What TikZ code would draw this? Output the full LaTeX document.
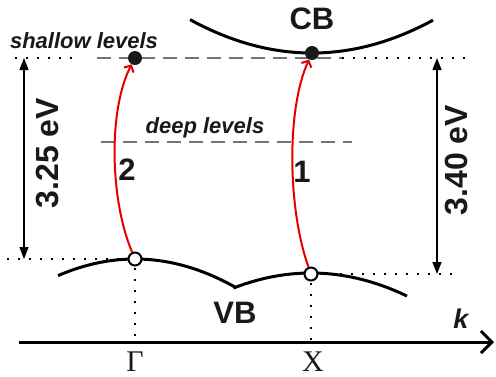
\documentclass[tikz,border=0pt]{standalone}
\usepackage{fontspec}
\setmainfont{Liberation Sans}
\newfontfamily\serifroman{Liberation Serif}
\usetikzlibrary{arrows.meta}
\begin{document}
\begin{tikzpicture}[x=1pt,y=-1pt,
  band/.style={line width=3pt},
  dotl/.style={line width=2.2pt,dash pattern=on 2.2pt off 8.8pt},
  dashl/.style={line width=1.6pt,draw=black!55,dash pattern=on 14pt off 8pt},
  dimarrow/.style={line width=1.4pt,{Triangle[length=12pt,width=9pt]}-{Triangle[length=12pt,width=9pt]}},
  trans/.style={line width=2pt,draw=red!90!black,-{Straight Barb[length=5pt,width=11pt,line width=2pt]}},
  filldot/.style={circle,fill=black!90,inner sep=0pt,minimum size=14pt},
  holedot/.style={circle,draw=black,fill=white,line width=2pt,inner sep=0pt,minimum size=13pt},
  lbl/.style={font=\bfseries\fontsize{31}{33}\selectfont,text=black!90,inner sep=0pt},
  ilbl/.style={font=\bfseries\itshape\fontsize{22}{24}\selectfont,text=black!90,inner sep=0pt},
  sym/.style={font=\serifroman\fontsize{30}{32}\selectfont,text=black!90,inner sep=0pt,text depth=0pt,anchor=base}]
\useasboundingbox (0,0) rectangle (496,376);
% bands
\draw[band] plot[domain=190:433,samples=60] ({\x},{53-0.00225*(\x-312)^2});
\draw[band] plot[domain=58:235,samples=50] ({\x},{259+0.0028*(\x-135)^2})
  -- plot[domain=235:407,samples=50] ({\x},{273+0.0025*(\x-311)^2});
% levels
\draw[dashl] (97,58) -- (342,58);
\draw[dashl] (101,142) -- (352,142);
% dotted guides
\draw[dotl] (15,58) -- (80,58);
\draw[dotl] (342,58) -- (467,58);
\draw[dotl] (7,259) -- (128,259);
\draw[dotl] (340,274) -- (455,274);
\draw[dotl] (135,268) -- (135,340);
\draw[dotl] (311,283) -- (311,340);
% axis
\coordinate (ax0) at (19,342);
\coordinate (ax1) at (494,342);
\draw[line width=3pt,-{Straight Barb[length=11pt,width=22pt,line width=3pt]}] (ax0) -- (ax1);
% dimension arrows
\coordinate (l0) at (24,58);
\coordinate (l1) at (24,259);
\coordinate (r0) at (437,58);
\coordinate (r1) at (437,274);
\draw[dimarrow] (l0) -- (l1);
\draw[dimarrow] (r0) -- (r1);
% dots
\node[filldot] (sh) at (135,58) {};
\node[filldot] (cb) at (312,53) {};
\node[holedot] (vG) at (135,259) {};
\node[holedot] (vX) at (311,274) {};
% transitions
\draw[trans] (vG) .. controls (110,200) and (108,110) .. (sh);
\draw[trans] (vX) .. controls (288,210) and (286,110) .. (cb);
% labels
\node[lbl] (tcb) at (312,19) {CB};
\node[lbl] (tvb) at (235,313) {VB};
\node[lbl] (t2) at (127,170) {2};
\node[lbl] (t1) at (302,172) {1};
\node[lbl,font=\bfseries\fontsize{32}{34}\selectfont,rotate=90] (t325) at (48,153) {3.25 eV};
\node[lbl,font=\bfseries\fontsize{32}{34}\selectfont,rotate=90] (t340) at (457,160) {3.40 eV};
\node[ilbl] (tsh) at (84,41) {shallow levels};
\node[ilbl] (tdl) at (205,128) {deep levels};
\node[font=\bfseries\itshape\fontsize{27}{29}\selectfont,text=black!90,inner sep=0pt] (tk) at (461,319) {k};
\node[sym] (tG) at (135,371) {Γ};
\node[sym] (tX) at (313,371) {X};
\end{tikzpicture}
\end{document}
